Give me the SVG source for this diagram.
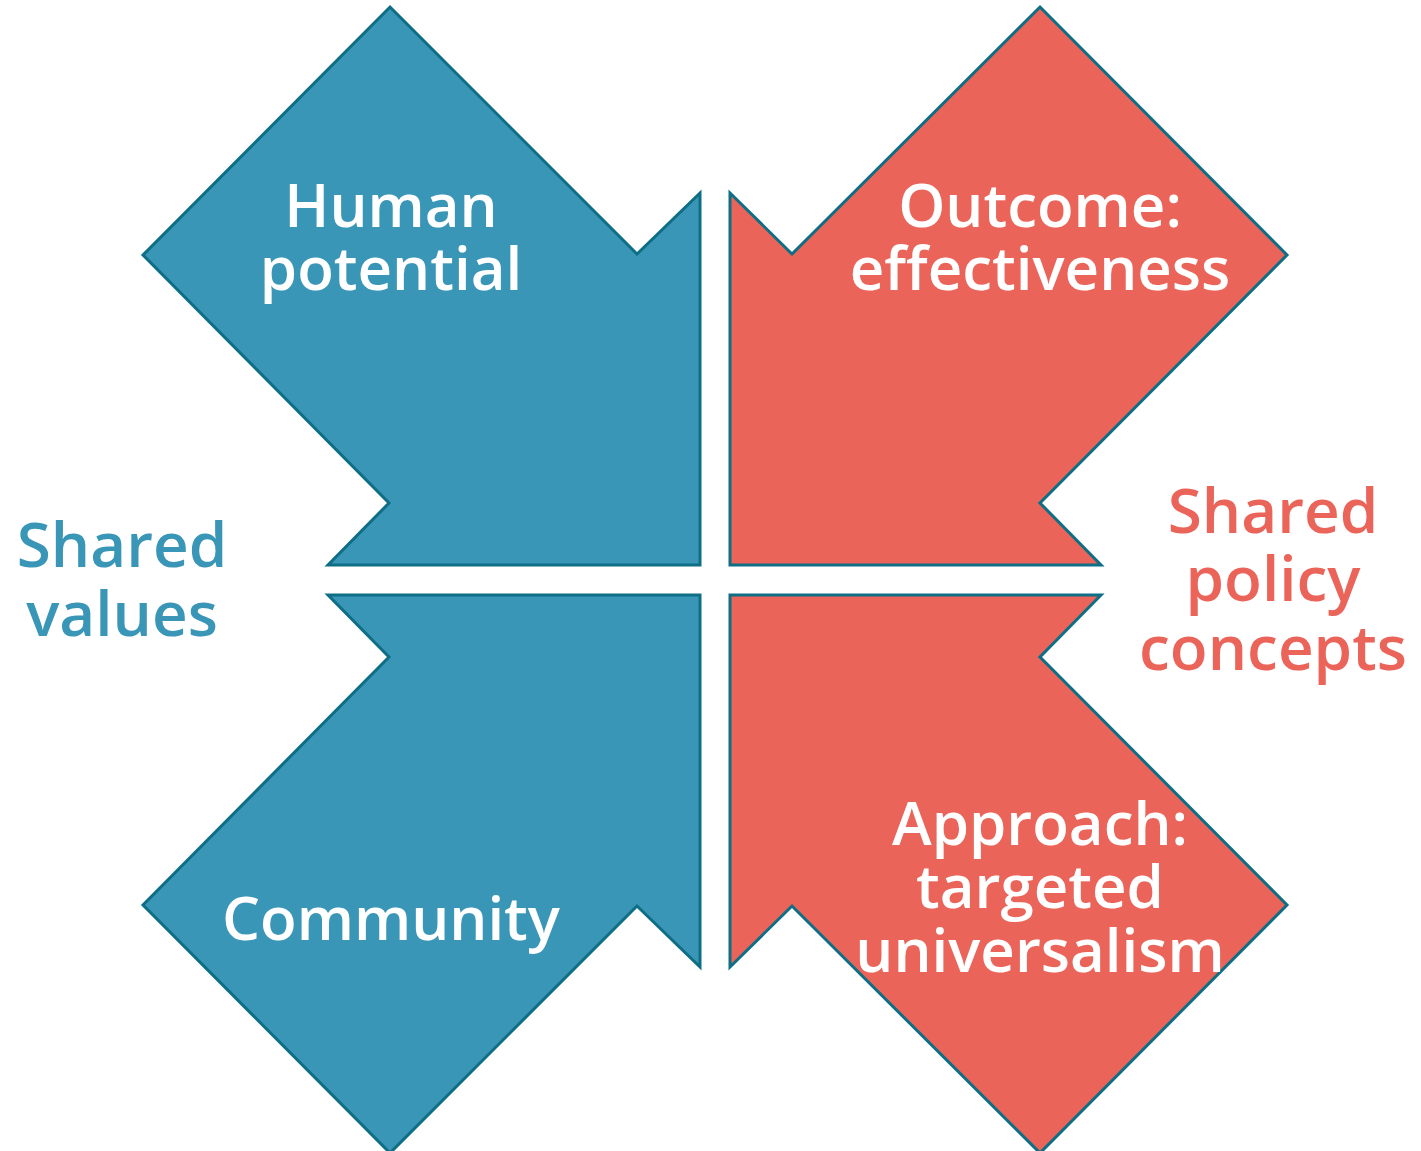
<svg xmlns="http://www.w3.org/2000/svg" width="1421" height="1151" viewBox="0 0 1421 1151">
<style>
.b{fill:#3A96B7;stroke:#0D6E85;stroke-width:3;stroke-linejoin:miter}
.r{fill:#EB6459;stroke:#0D6E85;stroke-width:3;stroke-linejoin:miter}
text{font-family:"Open Sans","Liberation Sans",sans-serif;font-weight:600;text-anchor:middle}
.w{fill:#FFFFFF;font-size:60px}
.lb{fill:#3A96B7;font-size:62px}
.lr{fill:#EB6459;font-size:62px}
</style>
<rect width="1421" height="1151" fill="#FFFFFF"/>
<g id="human-potential">
<polygon class="b" points="390,7 637,254 700,193 700,565 328,565 389,503 143,255"/>
<text class="w" x="391" y="227">Human</text>
<text class="w" x="391" y="290">potential</text>
</g>
<g id="outcome-effectiveness">
<polygon class="r" points="1040,7 1287,255 1040,503 1101,565 730,565 730,193 792,254"/>
<text class="w" x="1040" y="227">Outcome:</text>
<text class="w" x="1040" y="290">effectiveness</text>
</g>
<g id="community">
<polygon class="b" points="328,595 700,595 700,967 637,906 390,1153 143,905 389,657"/>
<text class="w" x="391" y="940">Community</text>
</g>
<g id="approach-targeted-universalism">
<polygon class="r" points="730,595 1101,595 1040,657 1287,905 1040,1153 792,906 730,967"/>
<text class="w" x="1040" y="845">Approach:</text>
<text class="w" x="1040" y="908">targeted</text>
<text class="w" x="1040" y="972">universalism</text>
</g>
<g id="shared-values">
<text class="lb" x="122" y="567">Shared</text>
<text class="lb" x="122" y="636">values</text>
</g>
<g id="shared-policy-concepts">
<text class="lr" x="1273" y="533">Shared</text>
<text class="lr" x="1273" y="601">policy</text>
<text class="lr" x="1273" y="670">concepts</text>
</g>
<g id="connectors"></g>
</svg>
